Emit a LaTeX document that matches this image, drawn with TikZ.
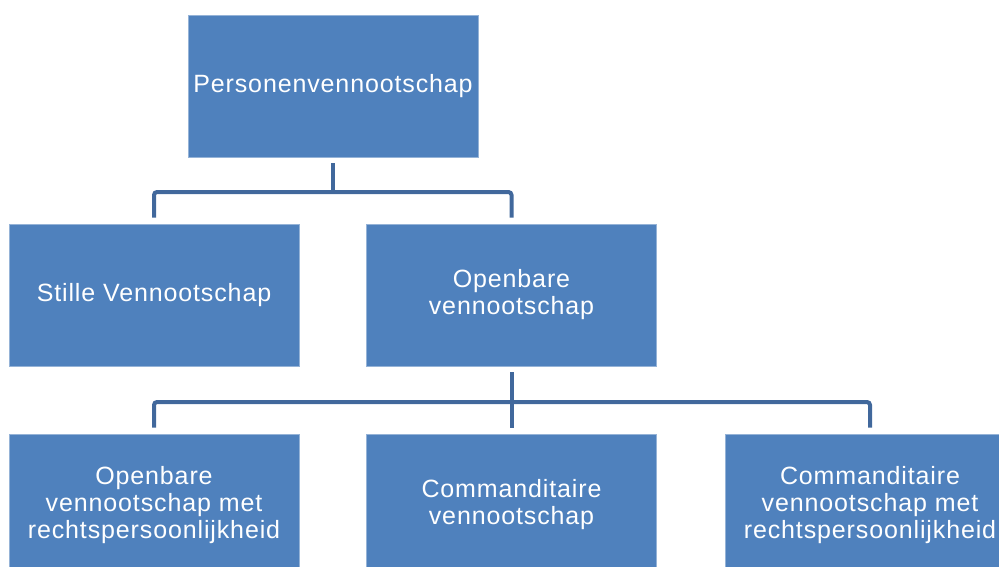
\documentclass[tikz,border=0pt]{standalone}
\usepackage{fontspec}
\setmainfont{Liberation Sans}[LetterSpace=3.5]
\definecolor{boxblue}{RGB}{79,129,189}
\definecolor{lineblue}{RGB}{65,104,156}
\begin{document}
\begin{tikzpicture}[x=1pt,y=1pt,
  orgbox/.style={rectangle, fill=boxblue, draw=boxblue!60!white, line width=0.8pt,
    minimum width=290pt, minimum height=142pt, inner sep=0pt, text=white, align=center,
    font=\fontsize{25}{27}\selectfont},
  conn/.style={draw=lineblue, line width=4pt, rounded corners=3pt}]
\useasboundingbox (0,0) rectangle (999,-567);
\clip (0,0) rectangle (999,-567);
\node[orgbox] (top) at (333,-86) {Personenvennootschap};
\node[orgbox] (stille) at (154,-295) {Stille Vennootschap};
\node[orgbox] (openbare) at (511.5,-295) {Openbare\\vennootschap};
\node[orgbox] (b1) at (154,-505) {Openbare\\vennootschap met\\rechtspersoonlijkheid};
\node[orgbox] (b2) at (511.5,-505) {Commanditaire\\vennootschap};
\node[orgbox] (b3) at (870,-505) {Commanditaire\\vennootschap met\\rechtspersoonlijkheid};
\coordinate (j1) at (333,-192);
\coordinate (j2) at (511.5,-402);
\draw[conn] ([yshift=-6pt]top.south) -- (j1);
\draw[conn] ([yshift=6pt]stille.north) |- (j1) -| ([yshift=6pt]openbare.north);
\draw[conn] ([yshift=-6pt]openbare.south) -- ([yshift=6pt]b2.north);
\draw[conn] ([yshift=6pt]b1.north) |- (j2) -| ([yshift=6pt]b3.north);
\end{tikzpicture}
\end{document}
